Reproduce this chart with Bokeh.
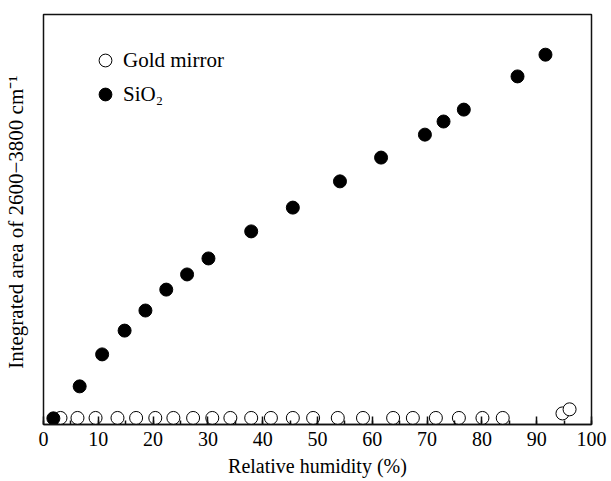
from bokeh.plotting import figure
from bokeh.models import Legend, LegendItem, SingleIntervalTicker, Range1d
from bokeh.embed import file_html
from bokeh.resources import INLINE

# Data (y in arbitrary units, 0-100)
gold_x = [3.1, 6.2, 9.5, 13.5, 16.9, 20.4, 23.7, 27.3, 30.8, 34.1, 37.9, 41.5,
          45.5, 49.2, 53.7, 58.3, 63.8, 67.4, 71.6, 75.8, 80.1, 83.8, 94.7, 96.0]
gold_y = [1.6, 1.6, 1.6, 1.6, 1.6, 1.6, 1.6, 1.6, 1.6, 1.6, 1.6, 1.6,
          1.6, 1.6, 1.6, 1.6, 1.6, 1.6, 1.6, 1.6, 1.6, 1.6, 2.7, 3.7]

sio2_x = [1.8, 6.6, 10.7, 14.8, 18.6, 22.4, 26.2, 30.1, 37.9, 45.5, 54.1,
          61.6, 69.6, 73.0, 76.7, 86.5, 91.6]
sio2_y = [1.5, 9.3, 17.1, 22.9, 27.8, 32.9, 36.6, 40.5, 47.1, 52.9, 59.3,
          65.1, 70.7, 73.9, 76.8, 84.9, 90.2]

FONT = "Liberation Serif"

p = figure(width=611, height=481, output_backend="svg", toolbar_location=None,
           x_range=Range1d(0, 100), y_range=Range1d(0, 100),
           min_border_left=42, min_border_right=20, min_border_top=14,
           min_border_bottom=57)

p.grid.visible = False
p.background_fill_color = "white"
p.border_fill_color = "white"
p.outline_line_color = "#111111"
p.outline_line_width = 1.5

# x axis
xa = p.xaxis[0]
xa.ticker = SingleIntervalTicker(interval=10, num_minor_ticks=2)
xa.major_tick_in = 8
xa.major_tick_out = 0
xa.minor_tick_in = 4
xa.minor_tick_out = 0
xa.major_tick_line_color = "#111111"
xa.minor_tick_line_color = "#111111"
xa.major_tick_line_width = 1.5
xa.minor_tick_line_width = 1.5
xa.axis_line_color = "#111111"
xa.axis_line_width = 1.5
xa.major_label_text_font = FONT
xa.major_label_text_font_size = "20px"
xa.major_label_text_color = "black"
xa.major_label_standoff = 7
xa.axis_label = "Relative humidity (%)"
xa.axis_label_text_font = FONT
xa.axis_label_text_font_size = "20px"
xa.axis_label_text_font_style = "normal"
xa.axis_label_text_color = "black"
xa.axis_label_standoff = 6

# y axis: label only
ya = p.yaxis[0]
ya.major_tick_line_color = None
ya.minor_tick_line_color = None
ya.major_label_text_font_size = "0px"
ya.major_label_text_color = None
ya.axis_line_color = None
ya.axis_label = "Integrated area of  2600\u22123800 cm\u207b\u00b9"
ya.axis_label_text_font = FONT
ya.axis_label_text_font_size = "21px"
ya.axis_label_text_font_style = "normal"
ya.axis_label_text_color = "black"
ya.axis_label_standoff = 10

r_gold = p.scatter(gold_x, gold_y, size=13, marker="circle",
                   fill_color="white", line_color="black", line_width=1)
r_sio2 = p.scatter(sio2_x, sio2_y, size=13, marker="circle",
                   fill_color="black", line_color="black", line_width=1)

legend = Legend(items=[LegendItem(label="Gold mirror", renderers=[r_gold]),
                       LegendItem(label="SiO\u2082", renderers=[r_sio2])],
                location=(46, 314), orientation="vertical",
                padding=0, margin=0, spacing=2,
                glyph_width=32, glyph_height=32, label_standoff=2,
                label_text_font=FONT, label_text_font_size="21px",
                label_text_color="black",
                border_line_color=None, background_fill_alpha=0)
p.add_layout(legend)

open("out.html", "w").write(file_html(p, INLINE))
